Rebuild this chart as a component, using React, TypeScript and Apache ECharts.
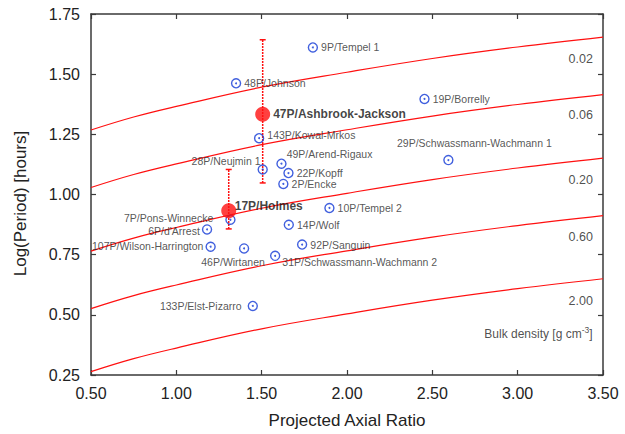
import React, { useEffect, useRef } from "react";
import * as echarts from "echarts";

// Projected axial ratio grid for the critical-rotation curves
const curveX = [0.5, 0.75, 1.0, 1.5, 2.0, 2.5, 3.0, 3.5];
// For each bulk density curve
const curve002 = [1.268, 1.322, 1.366, 1.446, 1.508, 1.565, 1.613, 1.654];
const curve006 = [1.029, 1.083, 1.127, 1.207, 1.269, 1.326, 1.374, 1.415];
const curve020 = [0.765, 0.819, 0.863, 0.943, 1.005, 1.062, 1.110, 1.151];
const curve060 = [0.526, 0.580, 0.624, 0.704, 0.766, 0.823, 0.871, 0.912];
const curve200 = [0.264, 0.318, 0.362, 0.442, 0.504, 0.561, 0.609, 0.650];
const densityLabels = ["0.02", "0.06", "0.20", "0.60", "2.00"];
const densityLabelY = [1.564, 1.332, 1.060, 0.824, 0.557];

// Comet sample
const cometNames = [
  "9P/Tempel 1",
  "48P/Johnson",
  "143P/Kowal-Mrkos",
  "28P/Neujmin 1",
  "49P/Arend-Rigaux",
  "22P/Kopff",
  "2P/Encke",
  "19P/Borrelly",
  "29P/Schwassmann-Wachmann 1",
  "10P/Tempel 2",
  "14P/Wolf",
  "92P/Sanguin",
  "31P/Schwassmann-Wachmann 2",
  "46P/Wirtanen",
  "7P/Pons-Winnecke",
  "6P/d'Arrest",
  "107P/Wilson-Harrington",
  "133P/Elst-Pizarro",
];
const cometRatio = [1.80, 1.35, 1.485, 1.506, 1.616, 1.657, 1.627, 2.454, 2.594, 1.897, 1.659, 1.737, 1.579, 1.397, 1.317, 1.180, 1.201, 1.448];
const cometLogP = [1.611, 1.462, 1.234, 1.104, 1.128, 1.089, 1.044, 1.397, 1.143, 0.944, 0.874, 0.792, 0.745, 0.776, 0.895, 0.855, 0.783, 0.537];

// Highlighted comets with error bars
const mainNames = ["47P/Ashbrook-Jackson", "17P/Holmes"];
const mainRatio = [1.506, 1.307];
const mainLogP = [1.333, 0.932];
const mainLow = [1.048, 0.857];
const mainHigh = [1.643, 1.104];

const xTickLabels = ["0.50", "1.00", "1.50", "2.00", "2.50", "3.00", "3.50"];

// label placement (style only)
const labelPlacement: Record<string, any> = {
  "143P/Kowal-Mrkos": { position: "right", offset: [0, -3] },
  "28P/Neujmin 1": { position: "left", offset: [6, -8] },
  "49P/Arend-Rigaux": { position: "right", offset: [-3, -10] },
  "7P/Pons-Winnecke": { position: "left", offset: [-9, -2] },
  "6P/d'Arrest": { position: "left", offset: [1, 2] },
  "107P/Wilson-Harrington": { position: "left", offset: [1, -1] },
  "46P/Wirtanen": { position: "bottom", offset: [-11, 0] },
  "31P/Schwassmann-Wachmann 2": { position: "right", offset: [-1, 6] },
  "133P/Elst-Pizarro": { position: "left", offset: [-3, 0] },
  "29P/Schwassmann-Wachmann 1": { position: "top", offset: [26, -3] },
};
const mainLabelPlacement: Record<string, any> = {
  "47P/Ashbrook-Jackson": { position: "right", offset: [0, 0] },
  "17P/Holmes": { position: "right", offset: [-4.5, -5] },
};

const RED = "#ff1010";
const BLUE = "#1238d6";
const AXIS = "#3a3a3a";
const FONT = "'Liberation Sans', Arial, Helvetica, sans-serif";

export default function App() {
  const ref = useRef<HTMLDivElement>(null);
  useEffect(() => {
    if (!ref.current) return;
    const chart = echarts.init(ref.current, null, { renderer: "svg" });

    const curves = [curve002, curve006, curve020, curve060, curve200];
    const curveSeries = curves.map((c, i) => ({
      type: "line",
      name: "rho " + densityLabels[i],
      data: curveX.map((x, j) => [x, c[j]]),
      smooth: 0.4,
      showSymbol: false,
      symbol: "none",
      lineStyle: { color: RED, width: 1.2 },
      z: 1,
      silent: true,
    }));

    const cometRing = cometNames.map((n, i) => {
      const pl = labelPlacement[n] || { position: "right", offset: [0, 0] };
      return {
        value: [cometRatio[i], cometLogP[i]],
        name: n,
        label: { show: true, position: pl.position, offset: pl.offset },
      };
    });

    const option: any = {
      animation: false,
      grid: { left: 91, right: 22, top: 14, bottom: 54 },
      xAxis: [
        {
          type: "value",
          min: 0.5,
          max: 3.5,
          interval: 0.5,
          name: "Projected Axial Ratio",
          nameLocation: "middle",
          nameGap: 37,
          nameTextStyle: { fontFamily: FONT, fontSize: 17, color: "#222" },
          axisLine: { show: true, lineStyle: { color: AXIS, width: 1.5 } },
          axisTick: { show: true, inside: true, length: 5, lineStyle: { color: AXIS, width: 1.2 } },
          axisLabel: {
            margin: 10,
            fontFamily: FONT,
            fontSize: 16,
            color: "#222",
            formatter: (v: number) => xTickLabels[Math.round((v - 0.5) / 0.5)] ?? v.toFixed(2),
          },
          splitLine: { show: false },
        },
        {
          type: "value",
          position: "top",
          min: 0.5,
          max: 3.5,
          interval: 0.5,
          axisLine: { show: true, lineStyle: { color: AXIS, width: 1.5 } },
          axisTick: { show: true, inside: true, length: 5, lineStyle: { color: AXIS, width: 1.2 } },
          axisLabel: { show: false },
          splitLine: { show: false },
        },
      ],
      yAxis: [
        {
          type: "value",
          min: 0.25,
          max: 1.75,
          interval: 0.25,
          name: "Log(Period) [hours]",
          nameLocation: "middle",
          nameGap: 62,
          nameTextStyle: { fontFamily: FONT, fontSize: 17, color: "#222", padding: [0, 18, 0, 0] },
          axisLine: { show: true, lineStyle: { color: AXIS, width: 1.5 } },
          axisTick: { show: true, inside: true, length: 5, lineStyle: { color: AXIS, width: 1.2 } },
          axisLabel: {
            margin: 11,
            fontFamily: FONT,
            fontSize: 16,
            color: "#222",
            formatter: (v: number) => v.toFixed(2),
          },
          splitLine: { show: false },
        },
        {
          type: "value",
          position: "right",
          min: 0.25,
          max: 1.75,
          interval: 0.25,
          axisLine: { show: true, lineStyle: { color: AXIS, width: 1.5 } },
          axisTick: { show: true, inside: true, length: 5, lineStyle: { color: AXIS, width: 1.2 } },
          axisLabel: { show: false },
          splitLine: { show: false },
        },
      ],
      series: [
        ...curveSeries,
        {
          type: "scatter",
          name: "density labels",
          symbolSize: 0,
          silent: true,
          data: densityLabels.map((d, i) => ({ value: [3.441, densityLabelY[i]], name: d })),
          label: {
            show: true,
            position: "inside",
            align: "right",
            formatter: "{b}",
            fontFamily: FONT,
            fontSize: 12.5,
            color: "#222",
          },
          z: 3,
        },
        {
          type: "scatter",
          name: "density title",
          symbolSize: 0,
          silent: true,
          data: [{ value: [3.439, 0.421], name: "Bulk density" }],
          label: {
            show: true,
            position: "inside",
            align: "right",
            formatter: "{a|Bulk density [g cm}{s|-3}{a|]}",
            rich: {
              a: { fontFamily: FONT, fontSize: 12, color: "#222" },
              s: { fontFamily: FONT, fontSize: 8.5, color: "#222", padding: [0, 0, 7, 0] },
            },
          },
          z: 3,
        },
        {
          type: "custom",
          name: "error bars",
          renderItem: (params: any, api: any) => {
            const x = api.value(0);
            const lo = api.value(1);
            const hi = api.value(2);
            const p1 = api.coord([x, lo]);
            const p2 = api.coord([x, hi]);
            const cw = 3;
            const st = { stroke: RED, lineWidth: 1.5 };
            return {
              type: "group",
              children: [
                {
                  type: "line",
                  shape: { x1: p1[0], y1: p1[1], x2: p2[0], y2: p2[1] },
                  style: { stroke: RED, lineWidth: 1.5, lineDash: [2, 1] },
                },
                { type: "line", shape: { x1: p1[0] - cw, y1: p1[1], x2: p1[0] + cw, y2: p1[1] }, style: st },
                { type: "line", shape: { x1: p2[0] - cw, y1: p2[1], x2: p2[0] + cw, y2: p2[1] }, style: st },
              ],
            };
          },
          encode: { x: 0, y: [1, 2] },
          data: mainNames.map((n, i) => [mainRatio[i], mainLow[i], mainHigh[i]]),
          z: 4,
          silent: true,
        },
        {
          type: "scatter",
          name: "comets",
          symbol: "circle",
          symbolSize: 9,
          itemStyle: { color: "rgba(255,255,255,0)", borderColor: BLUE, borderWidth: 1.4 },
          label: {
            show: true,
            distance: 3,
            formatter: "{b}",
            fontFamily: FONT,
            fontSize: 10.5,
            color: "#2a2a2a",
          },
          data: cometRing,
          z: 5,
        },
        {
          type: "scatter",
          name: "comet centres",
          symbol: "circle",
          symbolSize: 2,
          itemStyle: { color: BLUE },
          data: cometNames.map((n, i) => [cometRatio[i], cometLogP[i]]),
          z: 5,
          silent: true,
        },
        {
          type: "scatter",
          name: "highlighted",
          symbol: "circle",
          symbolSize: 15,
          itemStyle: { color: RED },
          label: {
            show: true,
            distance: 3,
            formatter: "{b}",
            fontFamily: FONT,
            fontSize: 12,
            fontWeight: "bold",
            color: "#111",
          },
          data: mainNames.map((n, i) => ({
            value: [mainRatio[i], mainLogP[i]],
            name: n,
            label: { position: mainLabelPlacement[n].position, offset: mainLabelPlacement[n].offset },
          })),
          z: 6,
        },
      ],
    };
    chart.setOption(option);
    return () => chart.dispose();
  }, []);
  return (
    <div
      ref={ref}
      style={{ position: "absolute", left: 0, top: 0, width: 625, height: 434, background: "#fff" }}
    />
  );
}
